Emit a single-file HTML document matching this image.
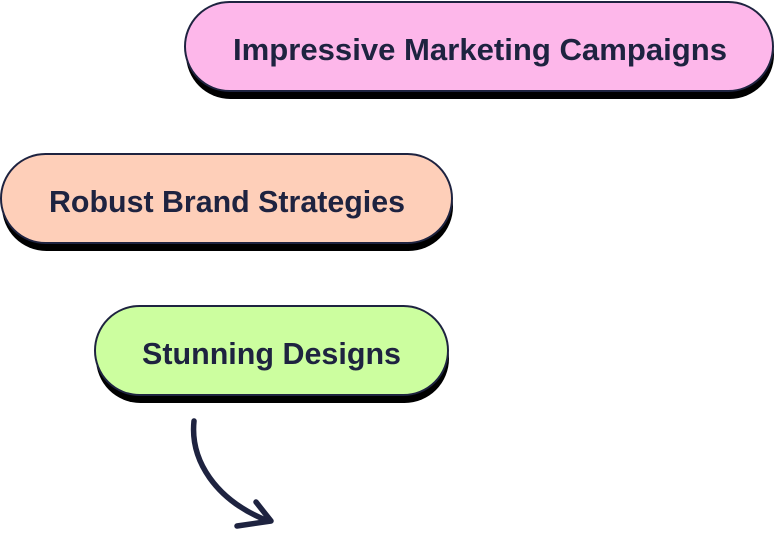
<!DOCTYPE html>
<html><head><style>
html,body{margin:0;padding:0;background:#fff;width:776px;height:541px;overflow:hidden}
svg{display:block}
text{font-family:"Liberation Sans",sans-serif;font-size:31px;fill:#1e2340;font-weight:bold}
</style></head><body>
<svg width="776" height="541" viewBox="0 0 776 541">
  <rect x="186" y="10" width="588" height="89" rx="44.5" fill="#000"/>
  <rect x="185" y="2" width="588" height="89" rx="44.5" fill="#fdb7ea" stroke="#1e2340" stroke-width="2"/>
  <text x="233" y="60" textLength="494" lengthAdjust="spacingAndGlyphs">Impressive Marketing Campaigns</text>

  <rect x="2" y="162" width="451" height="89" rx="44.5" fill="#000"/>
  <rect x="1" y="154" width="451" height="89" rx="44.5" fill="#fecfb9" stroke="#1e2340" stroke-width="2"/>
  <text x="49" y="212" textLength="356" lengthAdjust="spacingAndGlyphs">Robust Brand Strategies</text>

  <rect x="96" y="314" width="353" height="89" rx="44.5" fill="#000"/>
  <rect x="95" y="306" width="353" height="89" rx="44.5" fill="#ccfe9f" stroke="#1e2340" stroke-width="2"/>
  <text x="142" y="364" textLength="259" lengthAdjust="spacingAndGlyphs">Stunning Designs</text>

  <path d="M194 421 C190 460 215 500 268 521" fill="none" stroke="#1e2340" stroke-width="5.5" stroke-linecap="round"/>
  <path d="M237 526 L271 521 L256 502" fill="none" stroke="#1e2340" stroke-width="5.5" stroke-linecap="round" stroke-linejoin="round"/>
</svg>
</body></html>
